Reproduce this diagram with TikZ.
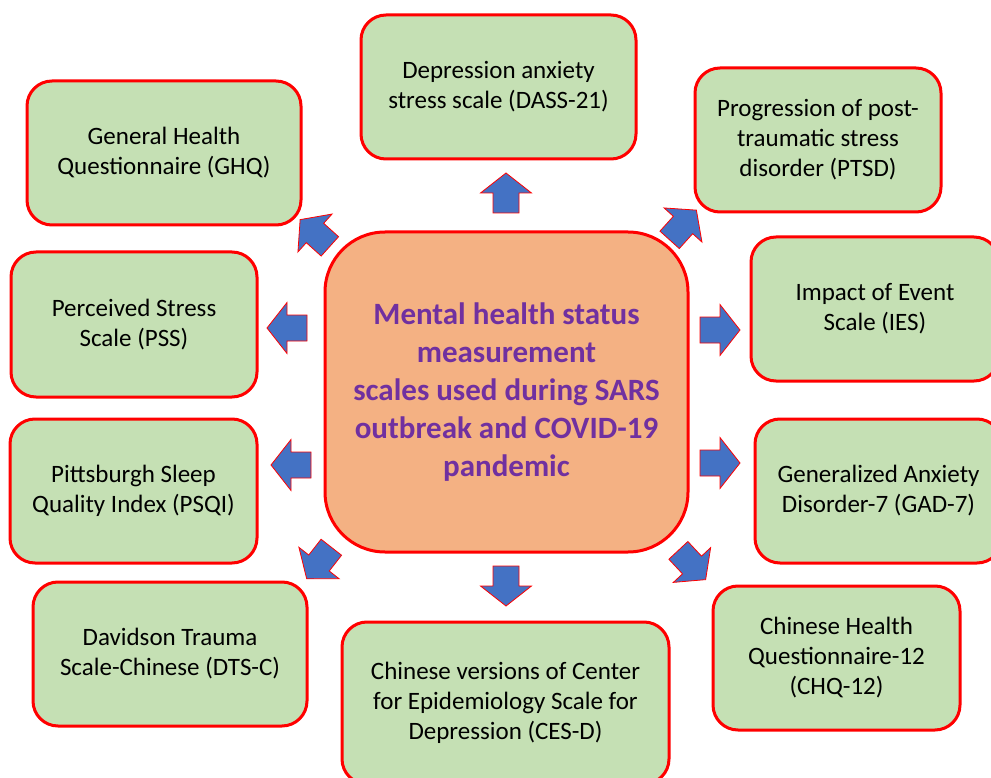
\documentclass[tikz,border=0pt]{standalone}
\usepackage{fontspec}
\setmainfont{Carlito}
\definecolor{boxgreen}{HTML}{C5E0B4}
\definecolor{boxorange}{HTML}{F4B183}
\definecolor{arrowblue}{HTML}{4472C4}
\definecolor{textpurple}{HTML}{7030A0}
\tikzset{
  scalebox/.style = {draw = red, line width = 3pt, fill = boxgreen, rounded corners = 25pt,
    align = center, inner sep = 0pt, font = \fontsize{25}{30}\selectfont},
  mainbox/.style = {draw = red, line width = 3pt, fill = boxorange, rounded corners = 60pt,
    align = center, inner sep = 0pt, text = textpurple, font = \fontsize{31}{38}\selectfont\bfseries},
  blockarrow/.style = {draw = red, line width = 0.8pt, fill = arrowblue, line join = miter}
}
\newcommand\bluearrow[2]{% block arrow: centre, angle
  \draw[blockarrow, shift = {#1}, rotate = #2] (-20,-13) -- (0,-13) -- (0,-25.5) -- (20,0) -- (0,25.5) -- (0,13) -- (-20,13) -- cycle;}
\begin{document}
\begin{tikzpicture}[x = 1pt, y = -1pt]
\useasboundingbox (0,0) rectangle (991,778);
\clip (0,0) rectangle (991,778);

\node[mainbox, minimum width = 363pt, minimum height = 320pt] (scales) at (506.5,392)
  {Mental health status\\measurement\\scales used during SARS\\outbreak and COVID-19\\pandemic}; % centre

\node[scalebox, minimum width = 275pt, minimum height = 144pt] (dass) at (498.5,87)
  {Depression anxiety\\stress scale (DASS-21)}; % top
\node[scalebox, minimum width = 274pt, minimum height = 144pt] (ghq) at (164,153)
  {General Health\\Questionnaire (GHQ)}; % top left
\node[scalebox, minimum width = 246pt, minimum height = 144pt] (ptsd) at (818,140)
  {Progression of post-\\traumatic stress\\disorder (PTSD)}; % top right
\node[scalebox, minimum width = 246pt, minimum height = 145pt] (pss) at (134,324.5)
  {Perceived Stress\\Scale (PSS)}; % left
\node[scalebox, minimum width = 248pt, minimum height = 144pt] (ies) at (875,309)
  {Impact of Event\\Scale (IES)}; % right
\node[scalebox, minimum width = 247pt, minimum height = 144pt] (psqi) at (133.5,491)
  {Pittsburgh Sleep\\Quality Index (PSQI)}; % left
\node[scalebox, minimum width = 247pt, minimum height = 144pt] (gad) at (878.5,491)
  {Generalized Anxiety\\Disorder-7 (GAD-7)}; % right
\node[scalebox, minimum width = 274pt, minimum height = 144pt] (dtsc) at (170,654)
  {Davidson Trauma\\Scale-Chinese (DTS-C)}; % bottom left
\node[scalebox, minimum width = 327pt, minimum height = 162pt] (cesd) at (505.5,703)
  {Chinese versions of Center\\for Epidemiology Scale for\\Depression (CES-D)}; % bottom
\node[scalebox, minimum width = 247pt, minimum height = 144pt] (chq) at (836.5,658)
  {Chinese Health\\Questionnaire-12\\(CHQ-12)}; % bottom right

\bluearrow{(506,193)}{90}   % to DASS-21
\bluearrow{(315,233)}{138}  % to GHQ
\bluearrow{(683,225)}{48}   % to PTSD
\bluearrow{(287,328)}{180}  % to PSS
\bluearrow{(720,330)}{0}    % to IES
\bluearrow{(291,465)}{180}  % to PSQI
\bluearrow{(720,463)}{0}    % to GAD-7
\bluearrow{(319,563)}{232}  % to DTS-C
\bluearrow{(506,586)}{270}  % to CES-D
\bluearrow{(692,565)}{313}  % to CHQ-12

\end{tikzpicture}
\end{document}
